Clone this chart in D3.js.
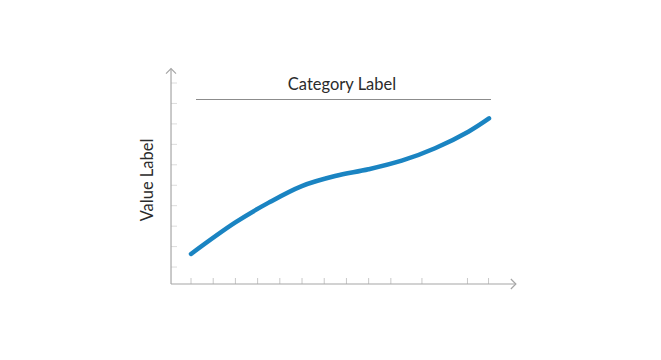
<!DOCTYPE html>
<html>
<head>
<meta charset="utf-8">
<script src="https://cdn.jsdelivr.net/npm/d3@7"></script>
<style>
  html, body { margin: 0; padding: 0; background: #fff; }
  svg { display: block; }
</style>
</head>
<body>
<svg id="chart" width="661" height="360"></svg>
<script>
// ---- data ----
const xValues = [0, 1.98, 3.5, 4.99, 6.49, 7.99, 9.49, 10.99, 12.49, 13.42];
const yValues = [1.64, 3.17, 4.15, 4.96, 5.45, 5.78, 6.2, 6.81, 7.62, 8.27];
const xTicks = [0, 1, 2, 3, 4, 5, 6, 7, 8, 9, 10.4, 12.45, 13.4];
const yTicks = [1, 2, 3, 4, 5, 6, 7, 8, 9, 10];
const categoryLabel = "Category Label";
const valueLabel = "Value Label";

// ---- layout ----
const svg = d3.select("#chart");
const x = d3.scaleLinear().domain([0, 13.42]).range([191, 489]);
const y = d3.scaleLinear().domain([0, 10]).range([287.5, 83]);
const xMin = -0.9, xMax = 14.63;   // axis extents in data units
const yMin = 0.17, yMax = 10.7;

const axisColor = "#a6a6a6";
const x0 = x(xMin), y0 = y(yMin);

// y ticks (short, light, to the right of axis)
svg.append("g").selectAll("line").data(yTicks).join("line")
  .attr("x1", x0).attr("x2", x0 + 6)
  .attr("y1", d => y(d)).attr("y2", d => y(d))
  .attr("stroke", "#dcdcdc").attr("stroke-width", 1);

// x ticks (short, upward)
svg.append("g").selectAll("line").data(xTicks).join("line")
  .attr("x1", d => x(d)).attr("x2", d => x(d))
  .attr("y1", y0).attr("y2", y0 - 6)
  .attr("stroke", "#c8c8c8").attr("stroke-width", 1);

// axes
svg.append("line").attr("x1", x0).attr("x2", x0)
  .attr("y1", y0).attr("y2", y(yMax))
  .attr("stroke", axisColor).attr("stroke-width", 1.2);
svg.append("line").attr("x1", x0).attr("x2", x(xMax))
  .attr("y1", y0).attr("y2", y0)
  .attr("stroke", axisColor).attr("stroke-width", 1.2);

// arrow heads (open chevrons)
const ah = 5;
svg.append("path")
  .attr("d", `M${x0 - ah},${y(yMax) + ah} L${x0},${y(yMax)} L${x0 + ah},${y(yMax) + ah}`)
  .attr("fill", "none").attr("stroke", axisColor).attr("stroke-width", 1.2);
svg.append("path")
  .attr("d", `M${x(xMax) - ah},${y0 - ah} L${x(xMax)},${y0} L${x(xMax) - ah},${y0 + ah}`)
  .attr("fill", "none").attr("stroke", axisColor).attr("stroke-width", 1.2);

// category label + rule
svg.append("text")
  .attr("x", 342).attr("y", 90)
  .attr("text-anchor", "middle")
  .attr("font-family", "Lato, 'Open Sans', sans-serif")
  .attr("font-size", 16.5)
  .attr("fill", "#2b2b2b")
  .text(categoryLabel);
svg.append("line")
  .attr("x1", 196).attr("x2", 491).attr("y1", 99.5).attr("y2", 99.5)
  .attr("stroke", "#8c8c8c").attr("stroke-width", 1);

// value label
svg.append("text")
  .attr("transform", "translate(153,180) rotate(-90)")
  .attr("text-anchor", "middle")
  .attr("font-family", "Lato, 'Open Sans', sans-serif")
  .attr("font-size", 16.5)
  .attr("fill", "#2b2b2b")
  .text(valueLabel);

// line
const pts = xValues.map((v, i) => [v, yValues[i]]);
const line = d3.line().x(d => x(d[0])).y(d => y(d[1])).curve(d3.curveCatmullRom.alpha(0.5));
svg.append("path")
  .attr("d", line(pts))
  .attr("fill", "none")
  .attr("stroke", "#1a84c2")
  .attr("stroke-width", 4.5)
  .attr("stroke-linecap", "round");
</script>
</body>
</html>
